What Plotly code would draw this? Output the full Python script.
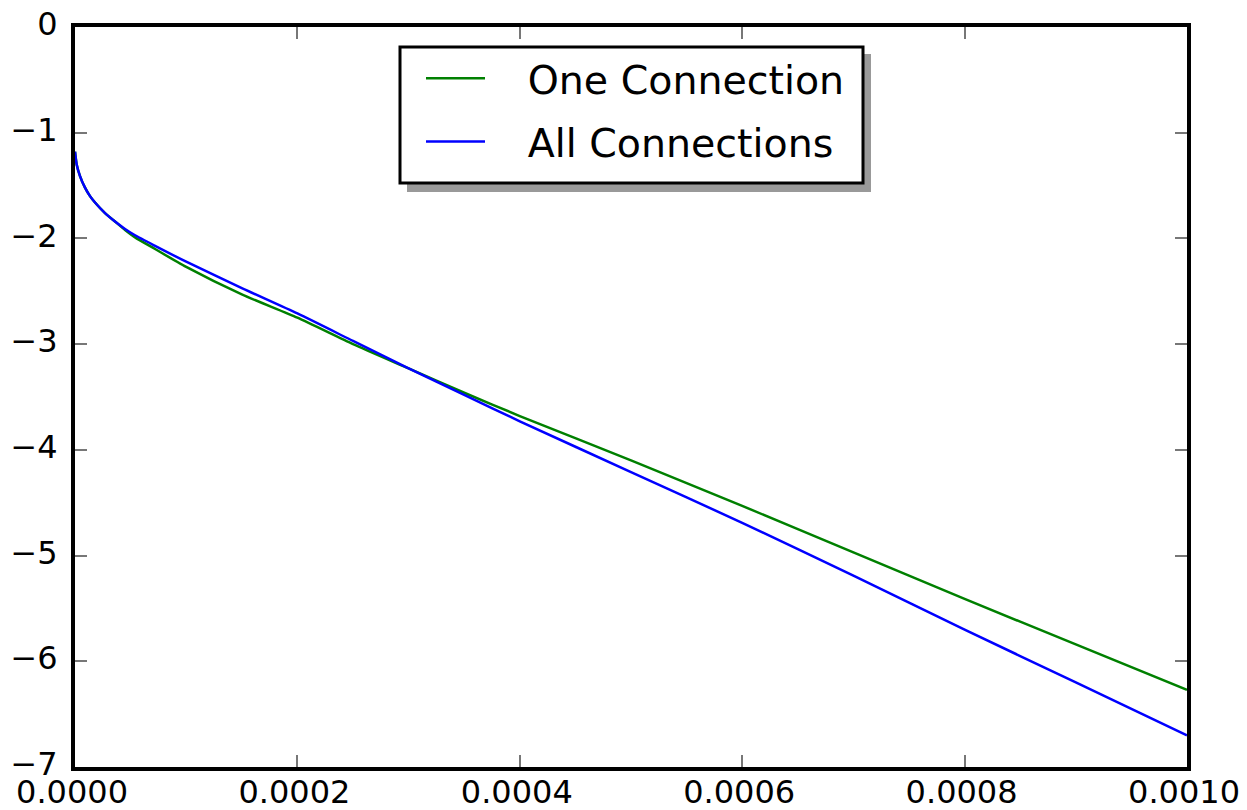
import plotly.graph_objects as go

x_vals = [0.0, 0.0000015, 0.0000045, 0.000009, 0.0000135, 0.000018, 0.000027,
          0.000036, 0.000045, 0.000054, 0.000072, 0.0001, 0.00015, 0.0002,
          0.00025, 0.0003, 0.00035, 0.0004, 0.0005, 0.0006, 0.0007,
          0.0008, 0.0009, 0.001]

one_connection = [-1.18, -1.30, -1.41, -1.52, -1.60, -1.66, -1.76,
                  -1.84, -1.92, -1.99, -2.10, -2.27, -2.53, -2.75,
                  -3.00, -3.23, -3.46, -3.68, -4.10, -4.53, -4.97,
                  -5.41, -5.84, -6.27]

all_connections = [-1.18, -1.30, -1.41, -1.52, -1.60, -1.66, -1.76,
                   -1.84, -1.91, -1.97, -2.07, -2.22, -2.47, -2.71,
                   -2.97, -3.23, -3.48, -3.73, -4.21, -4.69, -5.19,
                   -5.70, -6.20, -6.70]

series_names = ["One Connection", "All Connections"]

x_ticks = [0.0, 0.0002, 0.0004, 0.0006, 0.0008, 0.0010]
x_tick_labels = ["0.0000", "0.0002", "0.0004", "0.0006", "0.0008", "0.0010"]
y_ticks = [0, -1, -2, -3, -4, -5, -6, -7]
y_tick_labels = ["0", "\u22121", "\u22122", "\u22123", "\u22124", "\u22125", "\u22126", "\u22127"]

PAD = "\u00a0\u00a0\u00a0"

fig = go.Figure()
fig.add_trace(go.Scatter(x=x_vals, y=one_connection, mode="lines",
                         name=PAD + series_names[0], legendgroup="a",
                         line=dict(color="#008000", width=2.5,
                                   shape="spline", smoothing=0.6)))
fig.add_trace(go.Scatter(x=x_vals, y=all_connections, mode="lines",
                         name=PAD + series_names[1], legendgroup="b",
                         line=dict(color="#0000ff", width=2.5,
                                   shape="spline", smoothing=0.6)))

axis_common = dict(
    showgrid=False, zeroline=False, automargin=False,
    showline=True, linecolor="black", linewidth=4, mirror="allticks",
    ticks="inside", ticklen=12, tickwidth=2, tickcolor="#777777",
    tickfont=dict(family="DejaVu Sans", size=32, color="black"),
    ticklabeloverflow="allow",
)

fig.update_xaxes(range=[0, 0.001], tickvals=x_ticks, ticktext=x_tick_labels,
                 ticklabelstandoff=-6, ticklabelshift=-3, **axis_common)
fig.update_yaxes(range=[-7, 0], tickvals=y_ticks, ticktext=y_tick_labels,
                 ticklabelstandoff=7, ticklabelshift=-3, **axis_common)

# plot area in (screen) pixels: x 75..1187, y 27..767; page body has an 8px margin
PW, PH = 1112, 740


def px_x(p):
    return (p - 75) / PW


def px_y(p):
    return (767 - p) / PH


# legend drop shadow and frame
fig.add_shape(type="rect", xref="paper", yref="paper",
              x0=px_x(407), x1=px_x(871), y0=px_y(192), y1=px_y(54),
              fillcolor="#999999", line=dict(width=0), layer="above")
fig.add_shape(type="rect", xref="paper", yref="paper",
              x0=px_x(400), x1=px_x(863), y0=px_y(183), y1=px_y(47),
              fillcolor="white", line=dict(color="black", width=3), layer="above")

fig.update_layout(
    width=1239, height=802,
    margin=dict(l=67, r=60, t=19, b=43),
    plot_bgcolor="white", paper_bgcolor="white",
    showlegend=True,
    legend=dict(
        x=px_x(421), y=px_y(46), xanchor="left", yanchor="top",
        bgcolor="rgba(0,0,0,0)", borderwidth=0,
        font=dict(family="DejaVu Sans", size=39.5, color="black"),
        itemwidth=59, tracegroupgap=9,
    ),
)

fig.write_html("out.html")
